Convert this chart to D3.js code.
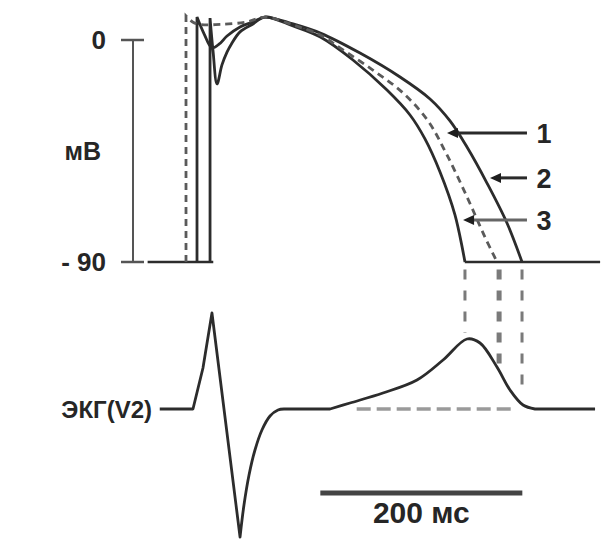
<!DOCTYPE html>
<html>
<head>
<meta charset="utf-8">
<script src="https://cdn.jsdelivr.net/npm/d3@7"></script>
<style>
  body { margin: 0; background: #fff; }
  text { font-family: "Liberation Sans", Arial, sans-serif; font-weight: bold; fill: #262626; }
</style>
</head>
<body>
<div id="chart"></div>
<script>
const
  width = 601,
  height = 539;

// time in ms, membrane potential in mV
const mvTicks = [0, -90];
const mvLabels = ["0", "- 90"];

const baseLeft = [[-38, -90], [27, -90]];
const baseRight = [[276, -90], [410, -90]];

// 1: dashed, 2: outer solid, 3: inner solid (upstroke time, then the curve)
const ap1Up = 0;
const ap1 = [[0, 9.7], [7, 7.2], [14, 6.3], [34, 6.3], [60, 7.3], [78, 9.3], [106, 6.1], [133, 2.0],
  [152.5, -3.2], [185, -12.2], [215, -21.5], [239.6, -32.8], [258.4, -46.6], [278.2, -63.6], [296, -79.9], [308, -90]];
const ap2Up = 10.9;
const ap2 = [[10.9, 9.3], [18, 2.4], [25.7, -3.2], [33, -1.6], [40.6, 1.6], [53.5, 5.3], [66.3, 7.3], [78, 9.3],
  [106, 6.5], [133, 2.8], [172.3, -5.3], [211.9, -15.0], [241.6, -23.9], [261.4, -32.8], [278.2, -43.4],
  [298, -58.0], [317.8, -74.2], [332.7, -90]];
const ap3Up = 23.8;
const ap3 = [[23.8, 8.9], [26.7, -4.1], [30.7, -17.8], [35.6, -10.1], [40.6, -4.9], [45, -1.6], [53.5, 3.3],
  [66.3, 6.5], [78, 9.3], [106, 5.7], [133, 1.2], [165.3, -8.1], [199, -20.3], [221.8, -30.4], [236.6, -40.1],
  [251.5, -53.5], [266.3, -70.9], [276.2, -90]];

// ECG (V2), arbitrary units
const ecgQRS = [[-26, 0], [6.9, 0], [16.8, 0.41], [25.7, 0.96], [53.5, -1.28]];
const ecgST = [[53.5, -1.28], [57.4, -0.96], [62.4, -0.66], [68.3, -0.41], [75.2, -0.21], [83.2, -0.07], [91.1, -0.01], [97, 0]];
const ecgFlat = [[97, 0], [142.6, 0]];
const ecgT = [[142.6, 0], [162.4, 0.06], [195, 0.16], [228.7, 0.29], [254.5, 0.49], [278.2, 0.7], [291.1, 0.66],
  [307.9, 0.42], [320.8, 0.19], [333.7, 0.04], [345.5, 0]];
const ecgTail = [[345.5, 0], [405, 0]];
const ecgRef = [[169, 0], [324, 0]];

// repolarisation ends dropped onto the ECG
const dropTimes = [276.2, 310, 332.7];
const dropEnds = [0.76, 0.39, 0.14];

const arrowTips = [[258.4, -37.7], [301, -55.9], [274.3, -73]];
const arrowNames = ["1", "2", "3"];

const timeBar = [133, 333];
const timeLabel = "200 мс";

const svg = d3.select("#chart")
  .append("svg")
  .attr("width", width)
  .attr("height", height);

const x = d3.scaleLinear().domain([0, 200]).range([186, 388]);
const y = d3.scaleLinear().domain([-90, 0]).range([262, 40]);
const ey = d3.scaleLinear().domain([0, 1]).range([409, 309]);

// join pieces that share end points, each with its own curve
function pieces(yScale, parts) {
  return parts.map(function (p, i) {
    const d = d3.line()
      .x(function (d) { return x(d[0]); })
      .y(function (d) { return yScale(d[1]); })
      .curve(p[1])(p[0]);
    return i ? d.replace(/^M[^A-Za-z]*/, "") : d;
  }).join("");
}

const smooth = d3.curveCatmullRom.alpha(0.5);
const straight = d3.curveLinear;
const ink = "#2c2c2c";

// mV scale bar
const axisX = 133;
svg.append("line")
  .attr("x1", axisX).attr("x2", axisX)
  .attr("y1", y(0)).attr("y2", y(-90))
  .attr("stroke", "#555").attr("stroke-width", 2);
svg.selectAll(".tick")
  .data(mvTicks)
  .enter().append("line")
  .attr("x1", axisX - 12).attr("x2", axisX + 11)
  .attr("y1", function (d) { return y(d); })
  .attr("y2", function (d) { return y(d); })
  .attr("stroke", "#555").attr("stroke-width", 2.5);
svg.selectAll(".mvlab")
  .data(mvTicks)
  .enter().append("text")
  .attr("x", 106)
  .attr("y", function (d) { return y(d); })
  .attr("dy", "0.36em")
  .attr("text-anchor", "end")
  .style("font-size", "26px")
  .text(function (d, i) { return mvLabels[i]; });
svg.append("text")
  .attr("x", 101).attr("y", y(-45))
  .attr("dy", "0.36em")
  .attr("text-anchor", "end")
  .style("font-size", "25px")
  .text("мВ");

// baselines at -90
[baseLeft, baseRight].forEach(function (b) {
  svg.append("path")
    .attr("d", pieces(y, [[b, straight]]))
    .attr("fill", "none").attr("stroke", ink).attr("stroke-width", 2.7);
});

// action potentials
[[ap2Up, ap2], [ap3Up, ap3]].forEach(function (c) {
  svg.append("path")
    .attr("d", pieces(y, [[[[c[0], -90], c[1][0]], straight], [c[1], smooth]]))
    .attr("fill", "none").attr("stroke", ink).attr("stroke-width", 2.8);
});
svg.append("path")
  .attr("d", pieces(y, [[[[ap1Up, -90], ap1[0]], straight], [ap1, smooth]]))
  .attr("fill", "none").attr("stroke", "#5a5a5a").attr("stroke-width", 2.8)
  .attr("stroke-dasharray", "7,5");

// drop lines
svg.selectAll(".drop")
  .data(dropTimes)
  .enter().append("line")
  .attr("x1", function (d) { return x(d); })
  .attr("x2", function (d) { return x(d); })
  .attr("y1", y(-93))
  .attr("y2", function (d, i) { return ey(dropEnds[i]); })
  .attr("stroke", "#7a7a7a")
  .attr("stroke-width", function (d, i) { return i === 1 ? 5 : 3; })
  .attr("stroke-dasharray", "10,11");

// ECG
svg.append("path")
  .attr("d", pieces(ey, [[ecgRef, straight]]))
  .attr("fill", "none").attr("stroke", "#9a9a9a").attr("stroke-width", 3.5)
  .attr("stroke-dasharray", "14,6");
svg.append("path")
  .attr("d", pieces(ey, [[ecgQRS, straight], [ecgST, smooth], [ecgFlat, straight], [ecgT, smooth], [ecgTail, straight]]))
  .attr("fill", "none").attr("stroke", ink).attr("stroke-width", 2.8)
  .attr("stroke-linejoin", "round");
svg.append("text")
  .attr("x", 152).attr("y", ey(0))
  .attr("dy", "0.36em")
  .attr("text-anchor", "end")
  .style("font-size", "24px")
  .text("ЭКГ(V2)");

// arrows with curve numbers
const tailT = 337.6;
const arrows = svg.selectAll(".arrow")
  .data(arrowTips)
  .enter().append("g");
arrows.append("line")
  .attr("x1", function (d) { return x(d[0]) + 8; })
  .attr("x2", x(tailT))
  .attr("y1", function (d) { return y(d[1]); })
  .attr("y2", function (d) { return y(d[1]); })
  .attr("stroke", function (d, i) { return i === 2 ? "#666" : "#2a2a2a"; })
  .attr("stroke-width", 3);
arrows.append("path")
  .attr("d", function (d) {
    const px = x(d[0]), py = y(d[1]);
    return "M" + px + "," + py + "L" + (px + 11) + "," + (py - 5) + "L" + (px + 11) + "," + (py + 5) + "Z";
  })
  .attr("fill", "#1e1e1e");
arrows.append("text")
  .attr("x", x(354.5))
  .attr("y", function (d) { return y(d[1]); })
  .attr("dy", "0.36em")
  .attr("text-anchor", "middle")
  .style("font-size", "27px")
  .text(function (d, i) { return arrowNames[i]; });

// 200 ms bar
svg.append("line")
  .attr("x1", x(timeBar[0])).attr("x2", x(timeBar[1]))
  .attr("y1", 493).attr("y2", 493)
  .attr("stroke", "#444").attr("stroke-width", 5);
svg.append("text")
  .attr("x", x((timeBar[0] + timeBar[1]) / 2))
  .attr("y", 523)
  .attr("text-anchor", "middle")
  .style("font-size", "30px")
  .text(timeLabel);
</script>
</body>
</html>
